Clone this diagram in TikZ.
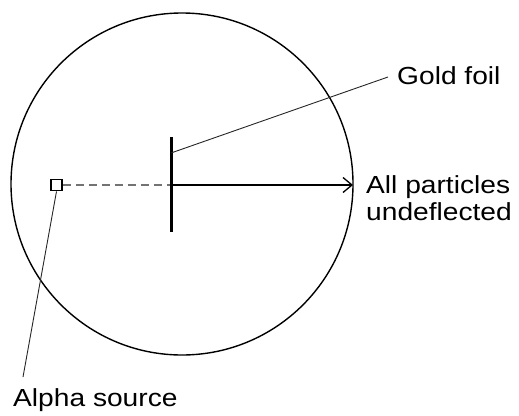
\documentclass[tikz,border=0pt]{standalone}
\usepackage{fontspec}
\setmainfont{Liberation Sans}
\usetikzlibrary{arrows.meta}
\begin{document}
\begin{tikzpicture}[x=1pt,y=-1pt,
  lbl/.style={inner sep=0pt,anchor=base west,font=\fontsize{24.7}{27}\selectfont},
  leader/.style={line width=0.9pt,draw=black!85},
  beam/.style={line width=1.3pt},
  srcbox/.style={draw,line width=1.8pt,minimum size=11pt,inner sep=0pt}]
\useasboundingbox (0,0) rectangle (519,415);
\draw[line width=1.4pt] (182,184) circle (171);
\node[srcbox] (src) at (56.5,185) {};
\coordinate (ftop) at (171,137);
\coordinate (fbot) at (171,232);
\coordinate (fmid) at (171,185);
\coordinate (fleader) at (171,153);
\coordinate (rim) at (353,185);
\draw[dashed,dash pattern=on 8pt off 5pt,line width=1.3pt,black!55] (src.east) -- (fmid);
\draw[beam,-{Straight Barb[length=9pt,width=15pt,line width=1.3pt]}] (fmid) -- (rim);
\draw[line width=3pt] (ftop) -- (fbot);
\node[lbl] (gold) at (397,84) {\scalebox{1.14}[1]{Gold foil}};
\node[lbl] (allp) at (366,193) {\scalebox{1.14}[1]{All particles}};
\node[lbl] (undef) at (366,220) {\scalebox{1.14}[1]{undeflected}};
\node[lbl] (alpha) at (13,406) {\scalebox{1.14}[1]{Alpha source}};
\coordinate (gend) at (388,77);
\coordinate (aend) at (23,377);
\draw[leader] (fleader) -- (gend);
\draw[leader] (src.south) -- (aend);
\end{tikzpicture}
\end{document}
